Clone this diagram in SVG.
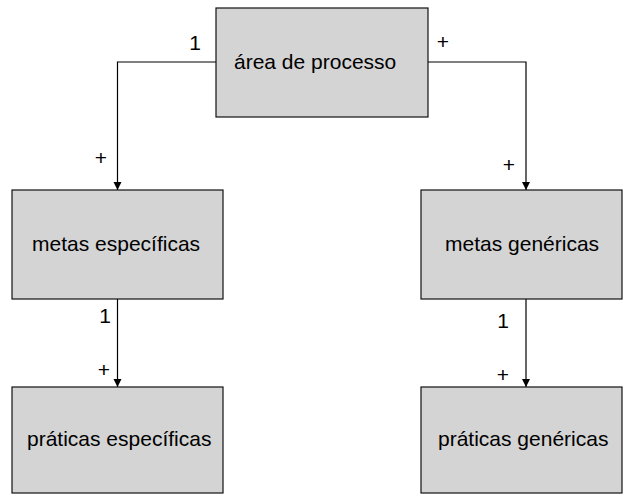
<svg xmlns="http://www.w3.org/2000/svg" width="623" height="497" viewBox="0 0 623 497">
<style>
.box{fill:#d4d4d4;stroke:#111;stroke-width:1.2}
.lbl{font-family:"Liberation Sans",Arial,sans-serif;font-size:21px;fill:#000}
.conn{fill:none;stroke:#000;stroke-width:1.2}
</style>
<defs>
<marker id="arr" markerWidth="10" markerHeight="10" refX="8" refY="4" orient="auto" markerUnits="userSpaceOnUse">
<path d="M0,0 L8,4 L0,8 Z" fill="#000"/>
</marker>
</defs>
<rect width="623" height="497" fill="#fff"/>
<g id="connectors">
<path class="conn" d="M216,62 H117.5 V190" marker-end="url(#arr)"/>
<path class="conn" d="M428,62 H526 V190" marker-end="url(#arr)"/>
<path class="conn" d="M117.5,299 V387" marker-end="url(#arr)"/>
<path class="conn" d="M526,299 V387" marker-end="url(#arr)"/>
<text class="lbl" x="195" y="50" text-anchor="middle">1</text>
<text class="lbl" x="443" y="49" text-anchor="middle">+</text>
<text class="lbl" x="101" y="165" text-anchor="middle">+</text>
<text class="lbl" x="509" y="172" text-anchor="middle">+</text>
<text class="lbl" x="105" y="323" text-anchor="middle">1</text>
<text class="lbl" x="104" y="377" text-anchor="middle">+</text>
<text class="lbl" x="503" y="328" text-anchor="middle">1</text>
<text class="lbl" x="503" y="382" text-anchor="middle">+</text>
</g>
<g id="area-de-processo">
<rect class="box" x="216" y="8" width="212" height="109"/>
<text class="lbl" x="234" y="69">área de processo</text>
</g>
<g id="metas-especificas">
<rect class="box" x="12" y="190" width="211" height="109"/>
<text class="lbl" x="32" y="251">metas específicas</text>
</g>
<g id="metas-genericas">
<rect class="box" x="421" y="190" width="201" height="109"/>
<text class="lbl" x="445" y="251">metas genéricas</text>
</g>
<g id="praticas-especificas">
<rect class="box" x="12" y="387" width="211" height="106"/>
<text class="lbl" x="27" y="446">práticas específicas</text>
</g>
<g id="praticas-genericas">
<rect class="box" x="421" y="387" width="201" height="106"/>
<text class="lbl" x="438" y="446">práticas genéricas</text>
</g>
</svg>
